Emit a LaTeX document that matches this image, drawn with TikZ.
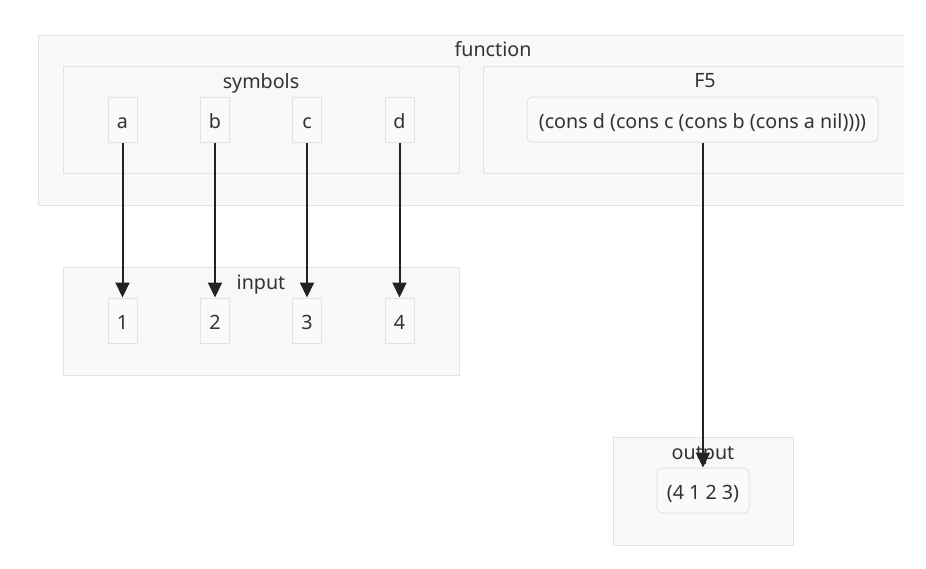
\documentclass[tikz,border=0pt]{standalone}
\usepackage{fontspec}
\setmainfont{Noto Sans}
\usetikzlibrary{arrows.meta}
\definecolor{grpfill}{HTML}{F8F8F8}
\definecolor{grpline}{HTML}{E3E3E3}
\definecolor{nodefill}{HTML}{FAFAFA}
\definecolor{ink}{HTML}{333333}
\definecolor{edge}{HTML}{222222}
\begin{document}
\begin{tikzpicture}[x=1pt,y=-1pt,
  txt/.style={text=ink,font=\fontsize{19.7}{23}\selectfont,text height=18pt,text depth=0pt},
  group/.style={draw=grpline,fill=grpfill,line width=1pt},
  sym/.style={txt,draw=grpline,fill=nodefill,line width=1pt,minimum width=29pt,minimum height=45pt,inner sep=0pt},
  rbox/.style={txt,draw=grpline,fill=nodefill,line width=1pt,rounded corners=5pt,minimum height=45pt,inner sep=0pt},
  glabel/.style={txt,inner sep=0pt},
  link/.style={draw=edge,line width=2pt,-{Triangle[length=15pt,width=14pt]}}]
\useasboundingbox (0,0) rectangle (926,568);
\fill[white] (0,0) rectangle (926,568);
% outer groups, cut off at the right side
\begin{scope}
  \clip (0,0) rectangle (904,568);
  \draw[group] (38,35) rectangle (950,205);
  \draw[group] (483,66) rectangle (927,173);
\end{scope}
\node[glabel] (lfun) at (493,47) {function};
\node[glabel] (lf5) at (705,78.5) {F5};
\draw[group] (63,66) rectangle (459,173);
\node[glabel] (lsym) at (261,79) {symbols};
\draw[group] (63,267) rectangle (459,375);
\node[glabel] (lin) at (261,280.5) {input};
\draw[group] (613,437) rectangle (793,545);
\node[glabel] (lout) at (703,450) {output};
% symbol nodes
\node[sym] (a) at (122.5,119.5) {a};
\node[sym] (b) at (215,119.5) {b};
\node[sym] (c) at (307,119.5) {c};
\node[sym] (d) at (399.5,119.5) {d};
\node[rbox,minimum width=351pt] (f5) at (702.5,119.5) {(cons d (cons c (cons b (cons a nil))))};
% input nodes
\node[sym] (n1) at (122.5,320.5) {1};
\node[sym] (n2) at (215,320.5) {2};
\node[sym] (n3) at (307,320.5) {3};
\node[sym] (n4) at (399.5,320.5) {4};
% output node
\node[rbox,minimum width=92pt] (res) at (703,490.5) {(4 1 2 3)};
% connectors
\draw[link] (a) -- (n1);
\draw[link] (b) -- (n2);
\draw[link] (c) -- (n3);
\draw[link] (d) -- (n4);
\draw[link] (f5.south -| res.north) -- (res.north);
\end{tikzpicture}
\end{document}
